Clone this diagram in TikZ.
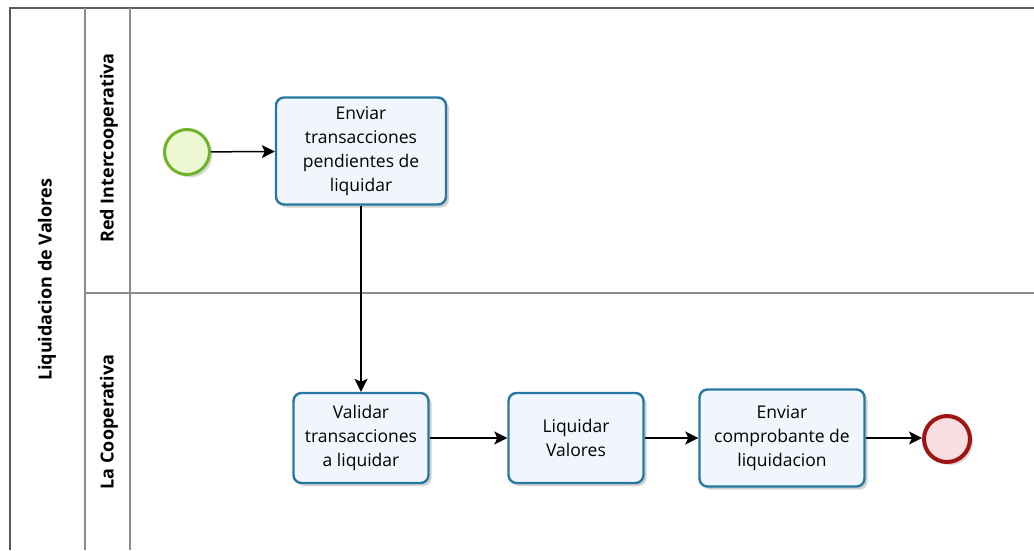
\documentclass[tikz,border=0pt]{standalone}
\usepackage{fontspec}
\setmainfont{Open Sans}
\usetikzlibrary{arrows.meta,shadows}
\definecolor{taskborder}{RGB}{38,120,160}
\definecolor{taskfill}{RGB}{241,245,252}
\definecolor{startborder}{RGB}{110,180,40}
\definecolor{startfill}{RGB}{236,248,210}
\definecolor{endborder}{RGB}{160,20,20}
\definecolor{endfill}{RGB}{248,222,224}
\definecolor{poolline}{RGB}{90,90,90}
\definecolor{laneline}{RGB}{140,140,140}
\tikzset{
  task/.style={draw=taskborder, line width=2.4pt, fill=taskfill, rounded corners=8pt,
    align=center, font=\fontsize{17.5}{24}\selectfont, inner sep=0pt,
    drop shadow={shadow xshift=3pt, shadow yshift=-3pt, opacity=0.18, fill=black}},
  startev/.style={circle, draw=startborder, line width=3pt, fill=startfill, minimum size=45pt, inner sep=0pt,
    drop shadow={shadow xshift=3pt, shadow yshift=-3pt, opacity=0.15, fill=black}},
  endev/.style={circle, draw=endborder, line width=4pt, fill=endfill, minimum size=46pt, inner sep=0pt,
    drop shadow={shadow xshift=3pt, shadow yshift=-3pt, opacity=0.15, fill=black}},
  flow/.style={-{Stealth[length=13pt,width=13pt,inset=3pt]}, line width=1.5pt, black},
  lanelabel/.style={rotate=90, font=\bfseries\fontsize{18}{20}\selectfont},
}
\begin{document}
\begin{tikzpicture}[x=1pt,y=-1pt]
\useasboundingbox (0,0) rectangle (1034,550);
% pool and lanes
\draw[poolline, line width=1.6pt] (10,550) -- (10,8) -- (1034,8);
\draw[laneline, line width=1.4pt] (85,8) -- (85,550);
\draw[laneline, line width=1.4pt] (130,8) -- (130,550);
\draw[laneline, line width=1.4pt] (85,293) -- (1034,293);
\node[lanelabel] (pool) at (47,280) {Liquidacion de Valores};
\node[lanelabel] (lane1) at (109,148) {Red Intercooperativa};
\node[lanelabel] (lane2) at (109,422) {La Cooperativa};
% events and tasks
\node[startev] (start) at (187,152) {};
\node[task, minimum width=170pt, minimum height=107pt] (t1) at (361,151)
  {Enviar\\transacciones\\pendientes de\\liquidar};
\node[task, minimum width=135pt, minimum height=90pt] (t2) at (361,438)
  {Validar\\transacciones\\a liquidar};
\node[task, minimum width=135pt, minimum height=90pt] (t3) at (576,438)
  {Liquidar\\Valores};
\node[task, minimum width=165pt, minimum height=97pt] (t4) at (782,438)
  {Enviar\\comprobante de\\liquidacion};
\node[endev] (end) at (947,439) {};
% flows
\draw[flow] (start) -- (t1);
\draw[flow] (t1) -- (t2);
\draw[flow] (t2) -- (t3);
\draw[flow] (t3) -- (t4);
\draw[flow] (t4.east) -- (end.west |- t4.east);
\end{tikzpicture}
\end{document}
